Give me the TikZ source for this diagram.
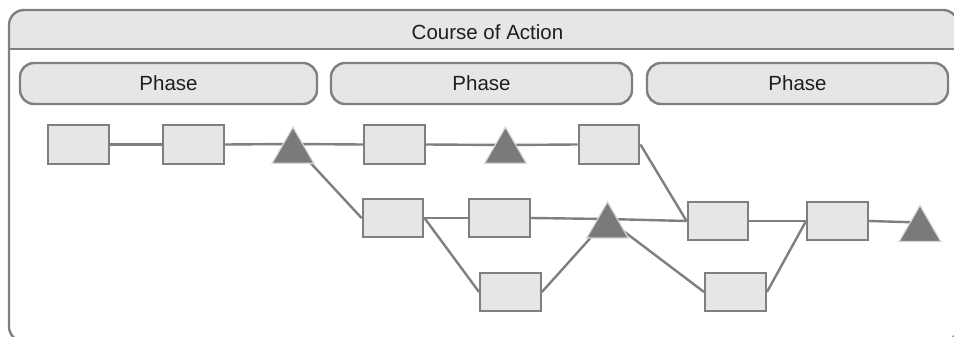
\documentclass[tikz,border=0pt]{standalone}
\usepackage{fontspec}
\setmainfont{Liberation Sans}
\usetikzlibrary{shapes.geometric}
\pgfdeclarelayer{frame}
\pgfdeclarelayer{links}
\pgfsetlayers{frame,links,main}

\definecolor{edge}{HTML}{7F7F7F}
\definecolor{panel}{HTML}{E6E6E6}
\definecolor{marker}{HTML}{7A7A7A}
\definecolor{halo}{HTML}{D6D6D6}
\definecolor{ink}{HTML}{1E1E1E}

\begin{document}
\begin{tikzpicture}[x=1pt,y=-1pt,
  label text/.style={text=ink, font=\fontsize{20.5}{24}\selectfont, inner sep=0pt},
  phasebox/.style={label text, draw=edge, fill=panel, line width=2.4pt,
    rounded corners=14pt, minimum height=41pt},
  task/.style={draw=edge, fill=panel, line width=2.4pt,
    minimum width=60.5pt, minimum height=38.5pt, inner sep=0pt},
  milestone/.style={regular polygon, regular polygon sides=3, fill=marker,
    draw=halo, line width=1.2pt, minimum size=48pt, inner sep=0pt, outer sep=0pt},
  link/.style={draw=edge, line width=2.4pt}]

\useasboundingbox (0,0) rectangle (954,337);
\clip (0,0) rectangle (954,337);

% outer frame with header band
\begin{pgfonlayer}{frame}
  \fill[white, rounded corners=15pt] (9,10) rectangle (958,341.5);
  \begin{scope}
    \clip[rounded corners=15pt] (9,10) rectangle (958,341.5);
    \fill[panel] (9,10) rectangle (958,49);
  \end{scope}
  \draw[edge, line width=2.4pt] (9,49) -- (958,49);
  \draw[edge, line width=2.4pt, rounded corners=15pt] (9,10) rectangle (958,341.5);
\end{pgfonlayer}

\node[label text] (coa) at (487.5,32.5) {Course of Action};

% phases
\node[phasebox, minimum width=297pt] (ph1) at (168.5,83.5) {Phase};
\node[phasebox, minimum width=301pt] (ph2) at (481.5,83.5) {Phase};
\node[phasebox, minimum width=301pt] (ph3) at (797.5,83.5) {Phase};

% tasks
\node[task] (b1) at (78.5,144.5) {};
\node[task] (b2) at (193.5,144.5) {};
\node[task] (b3) at (394.5,144.5) {};
\node[task] (b4) at (609,144.5) {};
\node[task] (bA) at (393,218) {};
\node[task] (bB) at (499.5,218) {};
\node[task] (bC) at (510.5,292) {};
\node[task] (bD) at (718,221) {};
\node[task] (bE) at (837.5,221) {};
\node[task] (bF) at (735.5,292) {};

% milestones and their hub points
\node[milestone] (m1) at (293,151.2) {};
\node[milestone] (m2) at (505.5,151.2) {};
\node[milestone] (m3) at (607.5,226) {};
\node[milestone] (m4) at (920,229.5) {};
\coordinate (h1) at (293,144);
\coordinate (h2) at (505.5,145);
\coordinate (h3) at (607.5,219);
\coordinate (h4) at (920,222.5);

% connectors
\begin{pgfonlayer}{links}
  \draw[link] (b1.east) -- (b2.west);
  \draw[link] (b2.east) -- (h1);
  \draw[link] (h1) -- (b3.west);
  \draw[link] (h1) -- (bA.west);
  \draw[link] (b3.east) -- (h2);
  \draw[link] (h2) -- (b4.west);
  \draw[link] (bA.east) -- (bB.west);
  \draw[link] (bA.east) -- (bC.west);
  \draw[link] (bB.east) -- (h3);
  \draw[link] (bC.east) -- (h3);
  \draw[link] (h3) -- (bD.west);
  \draw[link] (h3) -- (bF.west);
  \draw[link] (b4.east) -- (bD.west);
  \draw[link] (bD.east) -- (bE.west);
  \draw[link] (bF.east) -- (bE.west);
  \draw[link] (bE.east) -- (h4);
\end{pgfonlayer}
\end{tikzpicture}
\end{document}
